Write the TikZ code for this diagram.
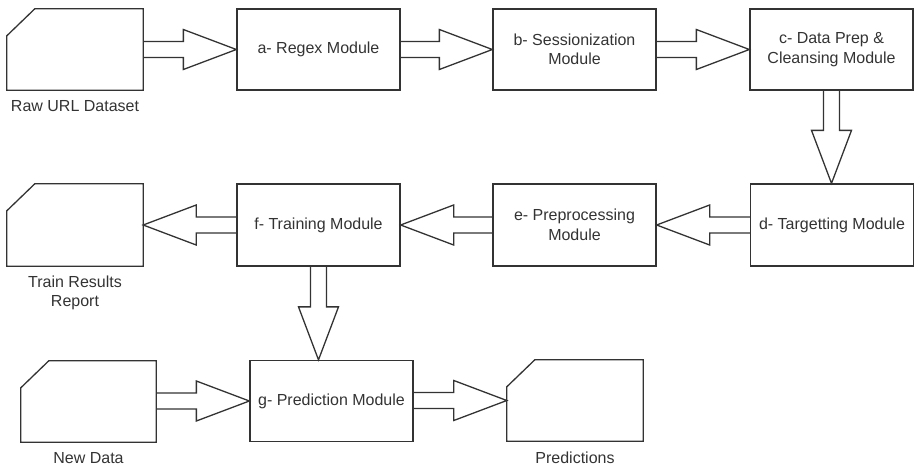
\documentclass[tikz,border=0pt]{standalone}
\usepackage{fontspec}
\setmainfont{Liberation Sans}
\usetikzlibrary{calc}
\definecolor{ink}{HTML}{333333}
\tikzset{
  module/.style={draw=ink, line width=1.3pt, minimum width=163pt, minimum height=81pt,
    inner sep=0pt, align=center, text=ink, font=\fontsize{16}{19.5}\selectfont},
  docnode/.style={minimum width=136pt, minimum height=81pt, inner sep=0pt},
  docline/.style={draw=ink, line width=1.3pt, line join=miter},
  caption/.style={text=ink, font=\fontsize{16}{19.5}\selectfont, align=center, inner sep=0pt},
  blk/.style={draw=ink, line width=1.3pt, line join=miter}
}
% document shape with a clipped top-left corner
\newcommand{\docshape}[1]{%
  \draw[docline] (#1.south west) -- (#1.south east) -- (#1.north east)
    -- ($(#1.north west)+(28,0)$) -- ($(#1.north west)+(0,27)$) -- cycle;}
% hollow block arrows between nodes
\newcommand{\arrowright}[2]{%
  \draw[blk] let \p1=(#1.east), \p2=(#2.west) in
    (\x1,\y2+8pt) -- (\x2-53pt,\y2+8pt) -- (\x2-53pt,\y2+20pt) -- (\x2,\y2)
    -- (\x2-53pt,\y2-20pt) -- (\x2-53pt,\y2-8pt) -- (\x1,\y2-8pt);}
\newcommand{\arrowleft}[2]{%
  \draw[blk] let \p1=(#1.west), \p2=(#2.east) in
    (\x1,\y2+8pt) -- (\x2+53pt,\y2+8pt) -- (\x2+53pt,\y2+20pt) -- (\x2,\y2)
    -- (\x2+53pt,\y2-20pt) -- (\x2+53pt,\y2-8pt) -- (\x1,\y2-8pt);}
\newcommand{\arrowdown}[2]{%
  \draw[blk] let \p1=(#1.south), \p2=(#2.north) in
    (\x1-8pt,\y1) -- (\x1-8pt,\y2+53pt) -- (\x1-20pt,\y2+53pt) -- (\x1,\y2)
    -- (\x1+20pt,\y2+53pt) -- (\x1+8pt,\y2+53pt) -- (\x1+8pt,\y1);}
\begin{document}
\begin{tikzpicture}[x=1pt,y=-1pt]
  \useasboundingbox (0,0) rectangle (914,469);

  % row 1
  \node[docnode] (raw) at (75,49.5) {};
  \node[module] (regex) at (318.5,49.5) {a- Regex Module};
  \node[module] (sess) at (574.5,49.5) {b- Sessionization\\Module};
  \node[module] (prep) at (831.5,49.5) {c- Data Prep \&\\Cleansing Module};

  % row 2
  \node[module, minimum height=82pt] (target) at (832,225) {d- Targetting Module};
  \node[module, minimum height=82pt] (preproc) at (574.5,225) {e- Preprocessing\\Module};
  \node[module, minimum height=82pt] (train) at (318.5,225) {f- Training Module};
  \node[docnode, minimum height=82pt] (report) at (75,225) {};

  % row 3
  \node[docnode, minimum width=135pt] (newdata) at (88.5,401.5) {};
  \node[module] (predict) at (331.5,401) {g- Prediction Module};
  \node[docnode] (preds) at (575,400.5) {};

  \docshape{raw}
  \docshape{report}
  \docshape{newdata}
  \docshape{preds}

  % captions
  \node[caption] (rawlbl) at (75,106) {Raw URL Dataset};
  \node[caption] (replbl) at (75,293) {Train Results\\Report};
  \node[caption] (newlbl) at (88.5,458) {New Data};
  \node[caption] (predlbl) at (575,458) {Predictions};

  % flow
  \arrowright{raw}{regex}
  \arrowright{regex}{sess}
  \arrowright{sess}{prep}
  \arrowdown{prep}{target}
  \arrowleft{target}{preproc}
  \arrowleft{preproc}{train}
  \arrowleft{train}{report}
  \draw[blk] let \p1=(train.south), \p2=(predict.north) in
    (\x1-8pt,\y1) -- (\x1-8pt,\y2+53pt) -- (\x1-20pt,\y2+53pt) -- (\x1,\y2)
    -- (\x1+20pt,\y2+53pt) -- (\x1+8pt,\y2+53pt) -- (\x1+8pt,\y1);
  \arrowright{newdata}{predict}
  \arrowright{predict}{preds}
\end{tikzpicture}
\end{document}
